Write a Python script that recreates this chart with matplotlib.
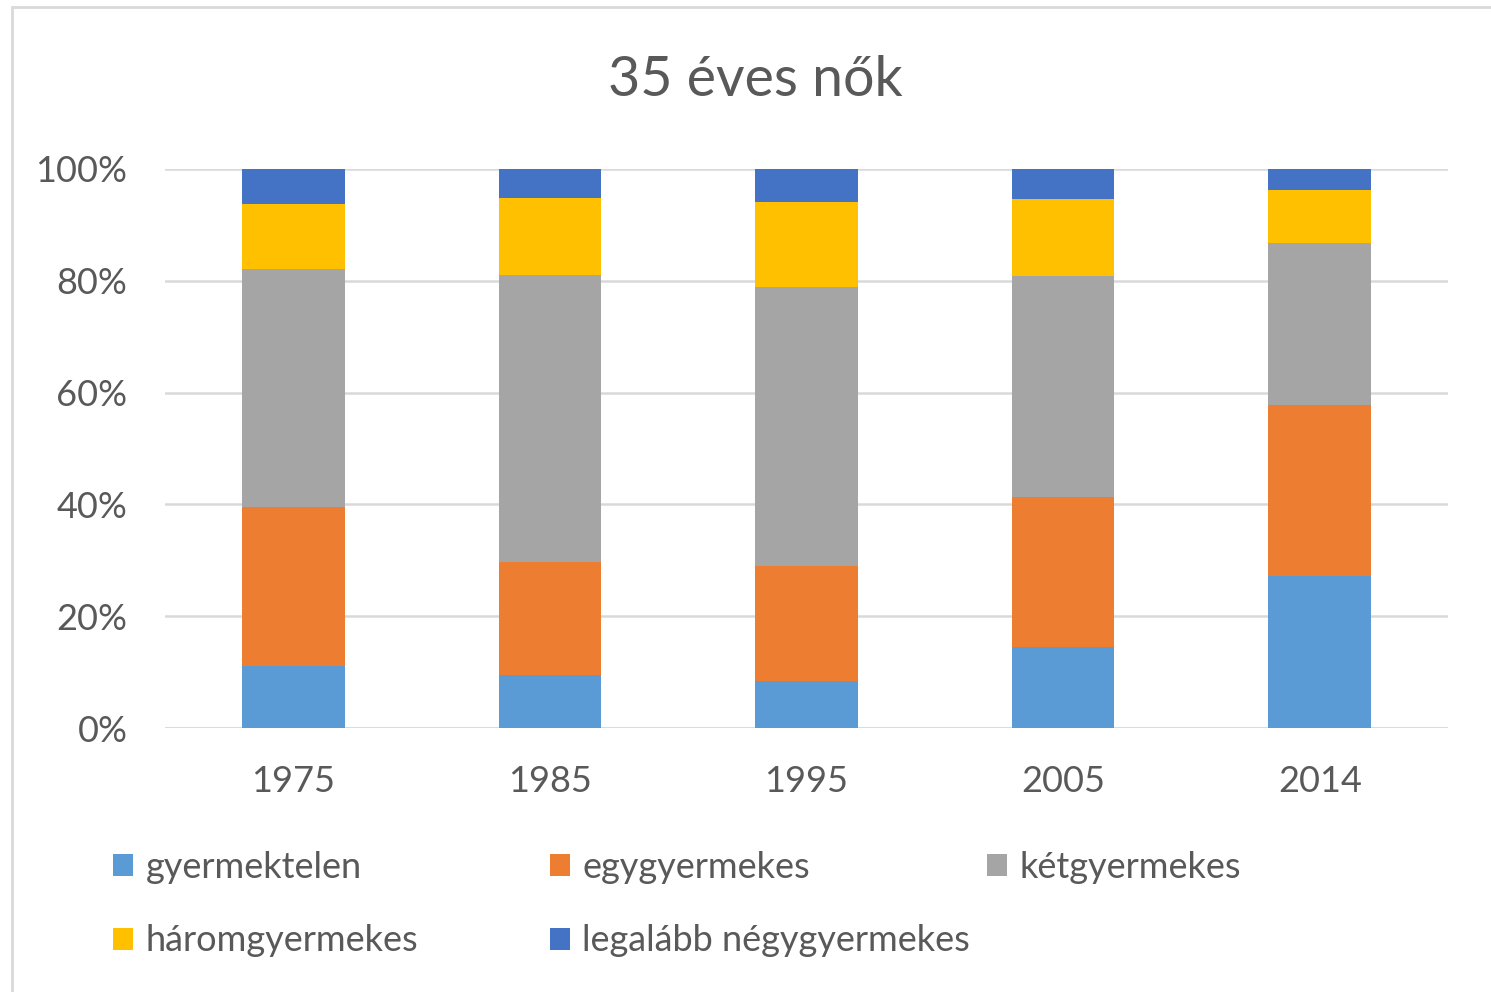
import numpy as np
import matplotlib.pyplot as plt
from matplotlib.patches import Rectangle

years = ["1975", "1985", "1995", "2005", "2014"]
series_names = [
    "gyermektelen",
    "egygyermekes",
    "kétgyermekes",
    "háromgyermekes",
    "legalább négygyermekes",
]
gyermektelen = [11.1, 9.5, 8.4, 14.5, 27.2]
egygyermekes = [28.4, 20.2, 20.6, 26.8, 30.6]
ketgyermekes = [42.6, 51.3, 49.9, 39.6, 29.0]
haromgyermekes = [11.6, 13.8, 15.2, 13.7, 9.4]
negygyermekes = [6.3, 5.2, 5.9, 5.4, 3.8]
colors = ["#5B9BD5", "#ED7D31", "#A5A5A5", "#FFC000", "#4472C4"]

plt.rcParams["font.family"] = ["Lato", "DejaVu Sans"]
TEXT = "#595959"
GRID = "#D9D9D9"

fig = plt.figure(figsize=(14.91, 9.92), dpi=100)
ax = fig.add_axes([165 / 1491, 1 - 728 / 992, (1448 - 165) / 1491, (728 - 169) / 992])

values = np.array([gyermektelen, egygyermekes, ketgyermekes, haromgyermekes, negygyermekes])
shares = values / values.sum(axis=0) * 100
x = np.arange(len(years))
bottom = np.zeros(len(years))
handles = []
for name, vals, col in zip(series_names, shares, colors):
    h = ax.bar(x, vals, width=0.4, bottom=bottom, color=col, label=name, zorder=3)
    handles.append(h)
    bottom += vals

ax.set_xlim(-0.5, len(years) - 0.5)
ax.set_ylim(0, 100)
ax.set_yticks([0, 20, 40, 60, 80, 100])
ax.set_yticklabels([f"{v}%" for v in [0, 20, 40, 60, 80, 100]])
ax.set_xticks(x)
ax.set_xticklabels(years)
ax.tick_params(axis="both", length=0, labelsize=26, colors=TEXT)
ax.tick_params(axis="x", pad=27)
ax.tick_params(axis="y", pad=27)
ax.grid(axis="y", color=GRID, linewidth=1.8, zorder=0)
ax.set_axisbelow(True)
for s in ax.spines.values():
    s.set_visible(False)
ax.axhline(0, color=GRID, linewidth=1.8, zorder=1)

fig.text(755 / 1491, 1 - 81 / 992, "35 éves nők", ha="center", va="center",
         fontsize=40, color=TEXT)

# legend: three columns, filled row by row
col_x = [113, 550, 987]
groups = [[0, 3], [1, 4], [2]]
for cx, idx in zip(col_x, groups):
    fig.legend([handles[i] for i in idx], [series_names[i] for i in idx],
               loc="upper left", bbox_to_anchor=(cx / 1491, 1 - 851 / 992),
               frameon=False, fontsize=26, labelcolor=TEXT,
               handlelength=0.55, handleheight=0.55, handletextpad=0.35,
               labelspacing=1.12, borderpad=0, borderaxespad=0)

fig.add_artist(Rectangle((12 / 1491, -0.1), 1.2, 1.093, transform=fig.transFigure,
                         fill=False, edgecolor=GRID, linewidth=2))

fig.savefig("out.png", dpi=100)
